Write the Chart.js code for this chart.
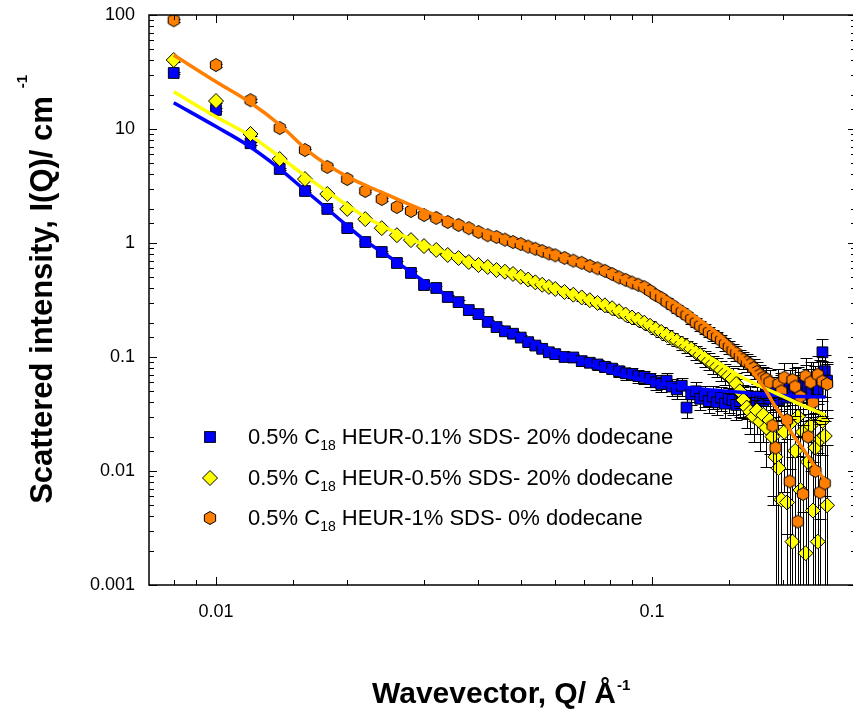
<!DOCTYPE html>
<html>
<head>
<meta charset="utf-8">
<script src="https://cdn.jsdelivr.net/npm/chart.js@4.4.1/dist/chart.umd.min.js"></script>
<style>
  html, body { margin: 0; padding: 0; background: #fff; overflow: hidden; }
  #wrap { width: 870px; height: 718px; }
</style>
</head>
<body>
<div id="wrap"><canvas id="chart" width="870" height="718"></canvas></div>
<script>
// Wavevector Q (1/Å), shared by the three measured series
const Q = [
  0.008, 0.010, 0.012, 0.014, 0.016, 0.018, 0.020, 0.022, 0.024, 0.026,
  0.028, 0.030, 0.032, 0.034, 0.036, 0.038, 0.040, 0.042, 0.044, 0.046,
  0.048, 0.050, 0.052, 0.054, 0.056, 0.058, 0.060, 0.063, 0.066, 0.069,
  0.072, 0.075, 0.078, 0.081, 0.084, 0.087, 0.090, 0.093, 0.096, 0.099,
  0.102, 0.105, 0.108, 0.111, 0.114, 0.117, 0.120, 0.123, 0.126, 0.129,
  0.132, 0.135, 0.138, 0.141, 0.144, 0.147, 0.150, 0.153, 0.156, 0.159,
  0.162, 0.165, 0.168, 0.171, 0.174, 0.177, 0.180, 0.183, 0.186, 0.189,
  0.192, 0.195, 0.198, 0.201, 0.204, 0.207, 0.210, 0.213, 0.216, 0.219,
  0.222, 0.225, 0.228, 0.231, 0.234, 0.237, 0.240, 0.243, 0.246, 0.249,
  0.252
];

// 0.5% C18 HEUR - 0.1% SDS - 20% dodecane
const blueI = [
  31, 14.7, 7.5, 4.46, 2.86, 1.99, 1.35, 1.02, 0.834, 0.668,
  0.546, 0.428, 0.403, 0.336, 0.303, 0.258, 0.238, 0.203, 0.183, 0.168,
  0.160, 0.148, 0.135, 0.126, 0.118, 0.110, 0.106, 0.100, 0.099, 0.092,
  0.089, 0.086, 0.082, 0.079, 0.075, 0.072, 0.071, 0.068, 0.067, 0.064,
  0.060, 0.058, 0.062, 0.055, 0.052, 0.056, 0.036, 0.047, 0.050, 0.043,
  0.046, 0.041, 0.045, 0.040, 0.044, 0.039, 0.043, 0.042, 0.038, 0.041,
  0.044, 0.040, 0.043, 0.039, 0.042, 0.045, 0.041, 0.047, 0.043, 0.050,
  0.046, 0.042, 0.053, 0.048, 0.044, 0.056, 0.050, 0.046, 0.058, 0.052,
  0.047, 0.060, 0.055, 0.049, 0.063, 0.058, 0.052, 0.070, 0.110, 0.075,
  0.062
];
const blueErr = [
  0.03, 0.03, 0.03, 0.03, 0.03, 0.03, 0.03, 0.03, 0.03, 0.035,
  0.035, 0.04, 0.04, 0.04, 0.045, 0.045, 0.05, 0.05, 0.05, 0.055,
  0.055, 0.06, 0.06, 0.065, 0.065, 0.07, 0.07, 0.08, 0.08, 0.09,
  0.09, 0.10, 0.10, 0.11, 0.11, 0.12, 0.12, 0.13, 0.13, 0.14,
  0.15, 0.15, 0.16, 0.17, 0.17, 0.18, 0.19, 0.19, 0.20, 0.21,
  0.21, 0.22, 0.23, 0.23, 0.24, 0.25, 0.25, 0.26, 0.27, 0.27,
  0.28, 0.29, 0.29, 0.30, 0.31, 0.31, 0.32, 0.33, 0.33, 0.34,
  0.35, 0.35, 0.36, 0.37, 0.37, 0.38, 0.39, 0.39, 0.40, 0.41,
  0.41, 0.42, 0.43, 0.43, 0.44, 0.45, 0.45, 0.35, 0.30, 0.40,
  0.45
];

// 0.5% C18 HEUR - 0.5% SDS - 20% dodecane
const yellowI = [
  40.3, 17.6, 9.04, 5.45, 3.64, 2.69, 1.99, 1.62, 1.35, 1.17,
  1.06, 0.94, 0.869, 0.785, 0.738, 0.681, 0.641, 0.616, 0.579, 0.560,
  0.535, 0.505, 0.478, 0.452, 0.430, 0.412, 0.395, 0.372, 0.352, 0.333,
  0.315, 0.298, 0.284, 0.268, 0.252, 0.236, 0.222, 0.213, 0.200, 0.188,
  0.176, 0.166, 0.156, 0.147, 0.139, 0.131, 0.124, 0.118, 0.110, 0.104,
  0.098, 0.092, 0.087, 0.082, 0.077, 0.072, 0.068, 0.064, 0.058, 0.050,
  0.042, 0.036, 0.033, 0.030, 0.034, 0.027, 0.031, 0.024, 0.028, 0.020,
  0.0133, 0.0106, 0.0056, 0.022, 0.0053, 0.026, 0.0024, 0.015, 0.030, 0.0068,
  0.022, 0.0019, 0.012, 0.025, 0.0045, 0.016, 0.0024, 0.0190, 0.0275, 0.0203,
  0.0050
];
const yellowErr = [
  0.03, 0.03, 0.03, 0.03, 0.03, 0.03, 0.03, 0.03, 0.03, 0.03,
  0.03, 0.03, 0.035, 0.035, 0.035, 0.04, 0.04, 0.04, 0.04, 0.045,
  0.045, 0.045, 0.05, 0.05, 0.05, 0.05, 0.055, 0.055, 0.06, 0.06,
  0.065, 0.065, 0.07, 0.07, 0.075, 0.075, 0.08, 0.08, 0.085, 0.09,
  0.09, 0.10, 0.10, 0.11, 0.11, 0.12, 0.12, 0.13, 0.14, 0.15,
  0.16, 0.17, 0.18, 0.19, 0.20, 0.21, 0.22, 0.24, 0.26, 0.28,
  0.30, 0.34, 0.36, 0.40, 0.38, 0.45, 0.42, 0.55, 0.50, 0.70,
  1.1, 1.4, 2.2, 0.7, 2.6, 0.6, 4.5, 1.0, 0.55, 2.0,
  0.8, 6.0, 1.3, 0.6, 3.0, 1.0, 5.0, 0.8, 0.5, 0.7,
  2.4
];

// 0.5% C18 HEUR - 1% SDS - 0% dodecane
const orangeI = [
  90, 36.4, 17.9, 10.2, 6.54, 4.65, 3.64, 2.86, 2.43, 2.07,
  1.91, 1.76, 1.66, 1.53, 1.44, 1.35, 1.25, 1.17, 1.13, 1.07,
  1.02, 0.98, 0.93, 0.89, 0.85, 0.81, 0.78, 0.74, 0.70, 0.67,
  0.63, 0.60, 0.57, 0.535, 0.50, 0.475, 0.45, 0.43, 0.41, 0.38,
  0.35, 0.33, 0.305, 0.285, 0.265, 0.248, 0.232, 0.215, 0.200, 0.188,
  0.176, 0.165, 0.156, 0.150, 0.140, 0.130, 0.122, 0.114, 0.108, 0.100,
  0.095, 0.090, 0.086, 0.080, 0.074, 0.070, 0.066, 0.064, 0.060, 0.025,
  0.016, 0.058, 0.050, 0.066, 0.028, 0.0081, 0.063, 0.055, 0.0036, 0.045,
  0.0063, 0.068, 0.020, 0.060, 0.040, 0.010, 0.070, 0.0065, 0.061, 0.0078,
  0.058
];
const orangeErr = [
  0.03, 0.03, 0.03, 0.03, 0.03, 0.03, 0.03, 0.03, 0.03, 0.03,
  0.03, 0.03, 0.03, 0.03, 0.03, 0.03, 0.03, 0.03, 0.03, 0.03,
  0.03, 0.03, 0.035, 0.035, 0.035, 0.035, 0.04, 0.04, 0.04, 0.04,
  0.045, 0.045, 0.045, 0.05, 0.05, 0.05, 0.055, 0.055, 0.06, 0.06,
  0.065, 0.065, 0.07, 0.07, 0.075, 0.08, 0.08, 0.085, 0.09, 0.095,
  0.10, 0.10, 0.11, 0.11, 0.12, 0.13, 0.13, 0.14, 0.15, 0.16,
  0.17, 0.18, 0.19, 0.20, 0.21, 0.22, 0.23, 0.25, 0.27, 0.80,
  1.2, 0.35, 0.40, 0.35, 0.9, 2.5, 0.40, 0.45, 4.5, 0.55,
  3.0, 0.45, 1.0, 0.5, 0.7, 1.8, 0.45, 3.0, 0.5, 2.5,
  0.5
];

// model fits
const blueFitQ = [0.008, 0.010, 0.0118, 0.0138, 0.0158, 0.0189, 0.022, 0.026, 0.030, 0.035, 0.040, 0.045, 0.050,
  0.060, 0.070, 0.080, 0.090, 0.100, 0.120, 0.140, 0.160, 0.180, 0.200, 0.220, 0.250];
const blueFitI = [17.0, 10.5, 7.24, 4.68, 3.02, 1.70, 1.05, 0.68, 0.46, 0.32, 0.235, 0.182, 0.150,
  0.112, 0.090, 0.074, 0.066, 0.060, 0.054, 0.051, 0.049, 0.047, 0.046, 0.045, 0.0446];
const yellowFitQ = [0.008, 0.010, 0.012, 0.014, 0.0161, 0.0192, 0.022, 0.026, 0.030, 0.035, 0.040, 0.045, 0.050,
  0.060, 0.070, 0.080, 0.090, 0.100, 0.120, 0.140, 0.160, 0.180, 0.200, 0.220, 0.250];
const yellowFitI = [21.2, 12.8, 8.7, 5.71, 3.82, 2.38, 1.70, 1.22, 0.97, 0.78, 0.655, 0.57, 0.505,
  0.405, 0.33, 0.275, 0.225, 0.185, 0.128, 0.092, 0.067, 0.054, 0.045, 0.038, 0.031];
const orangeFitQ = [0.008, 0.010, 0.012, 0.014, 0.0164, 0.020, 0.0238, 0.0274, 0.030, 0.034, 0.040, 0.045, 0.050,
  0.060, 0.070, 0.080, 0.090, 0.100, 0.110, 0.120, 0.130, 0.140, 0.150, 0.160, 0.170,
  0.180, 0.190, 0.200, 0.210, 0.220, 0.230, 0.240, 0.253];
const orangeFitI = [44.6, 26.0, 17.0, 10.9, 6.25, 3.82, 2.82, 2.23, 1.92, 1.62, 1.32, 1.14, 1.00,
  0.80, 0.655, 0.545, 0.455, 0.385, 0.315, 0.255, 0.205, 0.165, 0.130, 0.100, 0.075,
  0.055, 0.039, 0.029, 0.021, 0.0165, 0.0128, 0.0100, 0.0078];

const xTickLabels = ["0.01", "0.1"];
const yTickLabels = ["0.001", "0.01", "0.1", "1", "10", "100"];
const legendLabels = [
  ["0.5% C", "18", " HEUR-0.1% SDS- 20% dodecane"],
  ["0.5% C", "18", " HEUR-0.5% SDS- 20% dodecane"],
  ["0.5% C", "18", " HEUR-1% SDS- 0% dodecane"],
];

const FONT = "'Liberation Sans', Arial, sans-serif";
const BLUE = "#0000ff", YELLOW = "#ffff00", ORANGE = "#ff7f00";

// plot box in canvas pixels (right edge sits just past the visible window)
const LEFT = 149, TOP = 15, BOTTOM = 585, RIGHT = 856, W = 870, H = 718;

function hexMarker(r, fill) {
  const c = document.createElement("canvas");
  const s = Math.ceil(r * 2 + 3);
  c.width = c.height = s;
  const g = c.getContext("2d");
  g.beginPath();
  for (let k = 0; k < 6; k++) {
    const a = Math.PI / 2 + k * Math.PI / 3;
    const px = s / 2 + r * Math.cos(a), py = s / 2 + r * Math.sin(a);
    k ? g.lineTo(px, py) : g.moveTo(px, py);
  }
  g.closePath();
  g.fillStyle = fill;
  g.fill();
  g.lineWidth = 1;
  g.strokeStyle = "#000";
  g.stroke();
  return c;
}
const hex = hexMarker(6.5, ORANGE);

const toPoints = (xs, ys) => xs.map((x, i) => ({ x, y: ys[i] }));
const isDecade = (v) => Math.abs(Math.log10(v) - Math.round(Math.log10(v))) < 1e-6;

function tickLabel(list) {
  return function (value) {
    if (!isDecade(value)) return "";
    const s = list.find((t) => Math.abs(parseFloat(t) - value) / value < 1e-6);
    return s || "";
  };
}

const markers = [
  { style: "rect", radius: 7.6, color: BLUE },
  { style: "rectRot", radius: 7.5, color: YELLOW },
  { style: hex, radius: 6.5, color: ORANGE },
];

function scatterSet(ys, errs, m, order) {
  return {
    type: "scatter",
    data: toPoints(Q, ys),
    errors: errs,
    pointStyle: m.style,
    pointRadius: m.radius,
    backgroundColor: m.color,
    borderColor: "#000",
    borderWidth: 1,
    order,
  };
}
function fitSet(xs, ys, color, order) {
  return {
    type: "line",
    data: toPoints(xs, ys),
    borderColor: color,
    borderWidth: 3.5,
    pointRadius: 0,
    fill: false,
    cubicInterpolationMode: "monotone",
    order,
  };
}

// black error bars, drawn right before each measured series
const errorBars = {
  id: "errorBars",
  beforeDatasetDraw(chart, args) {
    const ds = chart.data.datasets[args.index];
    if (!ds.errors) return;
    const { ctx, chartArea: a } = chart;
    const xs = chart.scales.x, ys = chart.scales.y;
    ctx.save();
    ctx.beginPath();
    ctx.rect(a.left, a.top, a.right - a.left, a.bottom - a.top);
    ctx.clip();
    ctx.strokeStyle = "#000";
    ctx.lineWidth = 1;
    ctx.beginPath();
    ds.data.forEach((p, i) => {
      const e = ds.errors[i] * p.y;
      const px = Math.round(xs.getPixelForValue(p.x)) + 0.5;
      const hi = Math.round(ys.getPixelForValue(p.y + e)) + 0.5;
      const lo = p.y - e > 0 ? Math.round(ys.getPixelForValue(p.y - e)) + 0.5 : a.bottom + 5;
      ctx.moveTo(px, hi); ctx.lineTo(px, lo);
      ctx.moveTo(px - 6, hi); ctx.lineTo(px + 6, hi);
      if (lo < a.bottom) { ctx.moveTo(px - 6, lo); ctx.lineTo(px + 6, lo); }
    });
    ctx.stroke();
    ctx.restore();
  },
};

// frame with inward ticks on all four sides
const frame = {
  id: "frame",
  afterDraw(chart) {
    const { ctx, chartArea: a } = chart;
    ctx.save();
    ctx.strokeStyle = "#000";
    ctx.lineWidth = 1.5;
    ctx.strokeRect(a.left, a.top, a.right - a.left, a.bottom - a.top);
    ctx.lineWidth = 1;
    ctx.beginPath();
    chart.scales.y.ticks.forEach((t) => {
      const y = Math.round(chart.scales.y.getPixelForValue(t.value)) + 0.5;
      if (y < a.top - 1 || y > a.bottom + 1) return;
      const len = isDecade(t.value) ? 8 : 5;
      ctx.moveTo(a.left, y); ctx.lineTo(a.left + len, y);
      ctx.moveTo(a.right, y); ctx.lineTo(a.right - len, y);
    });
    chart.scales.x.ticks.forEach((t) => {
      const x = Math.round(chart.scales.x.getPixelForValue(t.value)) + 0.5;
      if (x < a.left + 1 || x > a.right - 1) return;
      const len = isDecade(t.value) ? 8 : 5;
      ctx.moveTo(x, a.bottom); ctx.lineTo(x, a.bottom - len);
      ctx.moveTo(x, a.top); ctx.lineTo(x, a.top + len);
    });
    ctx.stroke();
    ctx.restore();
  },
};

function drawMarker(ctx, m, x, y) {
  ctx.save();
  ctx.fillStyle = m.color;
  ctx.strokeStyle = "#000";
  ctx.lineWidth = 1;
  if (m.style === "rect") {
    const h = m.radius * Math.SQRT1_2;
    ctx.fillRect(x - h, y - h, 2 * h, 2 * h);
    ctx.strokeRect(x - h, y - h, 2 * h, 2 * h);
  } else if (m.style === "rectRot") {
    const r = m.radius;
    ctx.beginPath();
    ctx.moveTo(x, y - r); ctx.lineTo(x + r, y); ctx.lineTo(x, y + r); ctx.lineTo(x - r, y);
    ctx.closePath(); ctx.fill(); ctx.stroke();
  } else {
    ctx.drawImage(m.style, x - m.style.width / 2, y - m.style.height / 2);
  }
  ctx.restore();
}

// legend and axis titles (with sub/superscripts)
const annotations = {
  id: "annotations",
  afterDraw(chart) {
    const ctx = chart.ctx;
    ctx.save();
    ctx.fillStyle = "#000";
    ctx.textBaseline = "alphabetic";
    ctx.textAlign = "left";

    const rows = [437, 478, 518];
    legendLabels.forEach((parts, i) => {
      drawMarker(ctx, markers[i], 210, rows[i]);
      let x = 248;
      const base = rows[i] + 7;
      ctx.font = `22px ${FONT}`;
      ctx.fillText(parts[0], x, base);
      x += ctx.measureText(parts[0]).width;
      ctx.font = `14px ${FONT}`;
      ctx.fillText(parts[1], x, base + 6);
      x += ctx.measureText(parts[1]).width;
      ctx.font = `22px ${FONT}`;
      ctx.fillText(parts[2], x, base);
    });

    // x title
    ctx.font = `bold 30px ${FONT}`;
    const xt = "Wavevector, Q/ \u00C5";
    ctx.fillText(xt, 372, 703);
    const xw = ctx.measureText(xt).width;
    ctx.font = `bold 15px ${FONT}`;
    ctx.fillText("-1", 372 + xw + 1, 690);

    // y title
    ctx.translate(52, 300);
    ctx.rotate(-Math.PI / 2);
    ctx.font = `bold 31px ${FONT}`;
    const yt = "Scattered intensity, I(Q)/ cm";
    const yw = ctx.measureText(yt).width;
    ctx.fillText(yt, -yw / 2, 0);
    ctx.font = `bold 15px ${FONT}`;
    ctx.fillText("-1", yw / 2 + 8, -25);
    ctx.restore();
  },
};

const tickFont = { family: FONT, size: 18 };

new Chart(document.getElementById("chart"), {
  data: {
    datasets: [
      fitSet(orangeFitQ, orangeFitI, ORANGE, 0),
      fitSet(yellowFitQ, yellowFitI, YELLOW, 1),
      fitSet(blueFitQ, blueFitI, BLUE, 2),
      scatterSet(orangeI, orangeErr, markers[2], 3),
      scatterSet(yellowI, yellowErr, markers[1], 4),
      scatterSet(blueI, blueErr, markers[0], 5),
    ],
  },
  options: {
    responsive: false,
    animation: false,
    events: [],
    devicePixelRatio: 1,
    layout: { padding: { left: 0, top: TOP, right: W - RIGHT, bottom: 0 } },
    plugins: { legend: { display: false }, tooltip: { enabled: false } },
    scales: {
      x: {
        type: "logarithmic",
        min: Math.pow(10, -2 - (216 - LEFT) / 436),
        max: Math.pow(10, -2 + (RIGHT - 216) / 436),
        grid: { display: false, drawTicks: false },
        border: { display: false },
        ticks: { callback: tickLabel(xTickLabels), font: tickFont, color: "#000", padding: 16, maxRotation: 0, autoSkip: false },
        afterFit(s) { s.height = H - BOTTOM; s.paddingLeft = 0; s.paddingRight = 0; },
      },
      y: {
        type: "logarithmic",
        min: 0.001,
        max: 100,
        grid: { display: false, drawTicks: false },
        border: { display: false },
        ticks: { callback: tickLabel(yTickLabels), font: tickFont, color: "#000", padding: 14, autoSkip: false },
        afterFit(s) { s.width = LEFT; s.paddingTop = 0; s.paddingBottom = 0; },
      },
    },
  },
  plugins: [errorBars, frame, annotations],
});
</script>
</body>
</html>
